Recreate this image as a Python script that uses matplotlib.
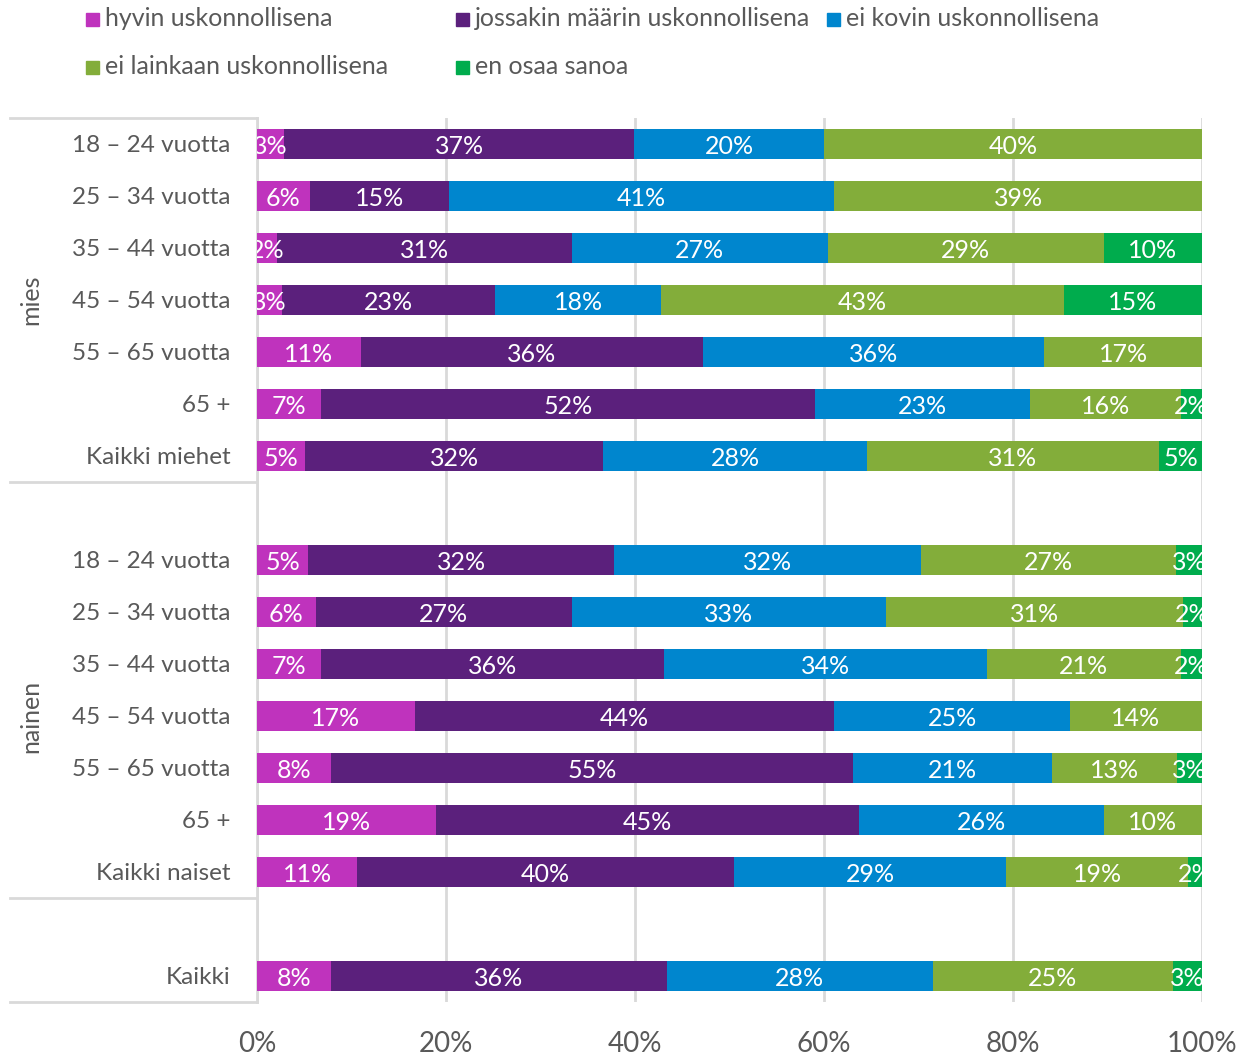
import matplotlib.pyplot as plt
from matplotlib.patches import Rectangle
import matplotlib.transforms as mtransforms

# rows top to bottom, None = empty spacer row
rows = ['18 – 24 vuotta', '25 – 34 vuotta', '35 – 44 vuotta', '45 – 54 vuotta',
        '55 – 65 vuotta', '65 +', 'Kaikki miehet', None,
        '18 – 24 vuotta', '25 – 34 vuotta', '35 – 44 vuotta', '45 – 54 vuotta',
        '55 – 65 vuotta', '65 +', 'Kaikki naiset', None,
        'Kaikki']

series = ['hyvin uskonnollisena', 'jossakin määrin uskonnollisena', 'ei kovin uskonnollisena',
          'ei lainkaan uskonnollisena', 'en osaa sanoa']
colors = ['#bf33bd', '#5b207c', '#0086ce', '#83ad3a', '#00ac4d']

hyvin     = [2.9, 5.6, 2.1, 2.6, 11.0, 6.8, 5.1, 0, 5.4, 6.2, 6.8, 16.7, 7.8, 18.9, 10.6, 0, 7.8]
jossakin  = [37.0, 14.7, 31.2, 22.6, 36.2, 52.2, 31.5, 0, 32.4, 27.1, 36.3, 44.4, 55.3, 44.8, 39.9, 0, 35.6]
ei_kovin  = [20.1, 40.8, 27.1, 17.6, 36.1, 22.8, 28.0, 0, 32.5, 33.3, 34.1, 24.9, 21.0, 25.9, 28.8, 0, 28.1]
ei_lainkaan = [40.0, 38.9, 29.2, 42.6, 16.7, 16.0, 30.8, 0, 27.0, 31.4, 20.6, 14.0, 13.3, 10.4, 19.2, 0, 25.4]
en_osaa   = [0, 0, 10.4, 14.6, 0, 2.2, 4.7, 0, 2.8, 2.0, 2.2, 0, 2.6, 0, 1.5, 0, 3.1]

groups = [('mies', 3), ('nainen', 11)]
ticks = [0, 20, 40, 60, 80, 100]

gray = '#595959'
font = 'Lato'

fig = plt.figure(figsize=(12.42, 10.59), dpi=100)
ax = fig.add_axes([257 / 1242, 1 - 1002 / 1059, 945 / 1242, 884 / 1059])

data = [hyvin, jossakin, ei_kovin, ei_lainkaan, en_osaa]
ypos = list(range(len(rows)))
left = [0] * len(rows)
for vals, col in zip(data, colors):
    ax.barh(ypos, vals, left=left, height=0.56, color=col, zorder=3)
    for i, v in enumerate(vals):
        if v > 0:
            ax.text(left[i] + v / 2, i, f'{round(v)}%', ha='center', va='center_baseline',
                    color='white', fontsize=18, family=font, zorder=4, clip_on=True)
    left = [l + v for l, v in zip(left, vals)]

ax.set_xlim(0, 100)
ax.set_ylim(len(rows) - 0.5, -0.5)
ax.set_xticks(ticks)
ax.set_xticklabels([f'{t}%' for t in ticks], fontsize=20, color=gray, family=font)
ax.tick_params(axis='x', length=0, pad=21)
ax.set_yticks([i for i, r in enumerate(rows) if r])
ax.set_yticklabels([r for r in rows if r], fontsize=17.5, color=gray, family=font)
ax.tick_params(axis='y', length=0, pad=19)
ax.grid(axis='x', color='#d9d9d9', lw=2, zorder=0)
for s in ['top', 'right', 'bottom']:
    ax.spines[s].set_visible(False)
ax.spines['left'].set_color('#d9d9d9')
ax.spines['left'].set_linewidth(2)

# group separators in the label area
tr = mtransforms.blended_transform_factory(ax.transAxes, ax.transData)
x0 = (10 - 257) / 945
for yl in [-0.5, 7 - 0.5, 15 - 0.5, len(rows) - 0.5]:
    ax.plot([x0, 0], [yl, yl], color='#d9d9d9', lw=2, transform=tr, clip_on=False)
for name, yc in groups:
    ax.text((31 - 257) / 945, yc, name, rotation=90, ha='center', va='center',
            fontsize=18, color=gray, family=font, transform=tr)

# legend, laid out like the original
leg_pos = [(86, 19), (456, 19), (827, 19), (86, 67), (456, 67)]
for (px, py), name, col in zip(leg_pos, series, colors):
    fig.patches.append(Rectangle((px / 1242, 1 - (py + 7) / 1059), 13 / 1242, 13 / 1059,
                                 color=col, transform=fig.transFigure))
    fig.text((px + 19) / 1242, 1 - py / 1059, name, ha='left', va='center',
             fontsize=18, color=gray, family=font)

fig.savefig('out.png', dpi=100)
